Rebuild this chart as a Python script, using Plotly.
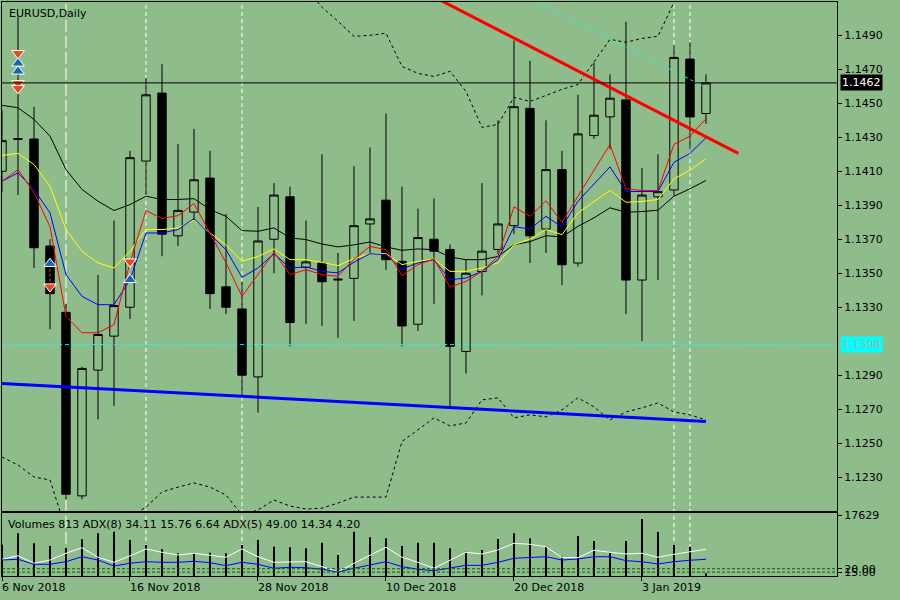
import plotly.graph_objects as go
from datetime import datetime

# ---- data ----
dates = ["2018-11-06", "2018-11-07", "2018-11-08", "2018-11-09", "2018-11-12",
         "2018-11-13", "2018-11-14", "2018-11-15", "2018-11-16", "2018-11-19",
         "2018-11-20", "2018-11-21", "2018-11-22", "2018-11-23", "2018-11-26",
         "2018-11-27", "2018-11-28", "2018-11-29", "2018-11-30", "2018-12-03",
         "2018-12-04", "2018-12-05", "2018-12-06", "2018-12-07", "2018-12-10",
         "2018-12-11", "2018-12-12", "2018-12-13", "2018-12-14", "2018-12-17",
         "2018-12-18", "2018-12-19", "2018-12-20", "2018-12-21", "2018-12-24",
         "2018-12-26", "2018-12-27", "2018-12-28", "2018-12-31", "2019-01-02",
         "2019-01-03", "2019-01-04", "2019-01-07", "2019-01-08", "2019-01-09"]

opens = [1.1410, 1.14287, 1.1429, 1.1366, 1.1327, 1.1219, 1.1293, 1.1313, 1.1330, 1.1416,
         1.1456, 1.1372, 1.1386, 1.1406, 1.1342, 1.1329, 1.1289, 1.1370, 1.1395, 1.13535,
         1.1356, 1.1346, 1.1347, 1.1379, 1.1393, 1.1357, 1.1320, 1.1370, 1.1364, 1.1304,
         1.1351, 1.1364, 1.1378, 1.1447, 1.1376, 1.1411, 1.1356, 1.1431, 1.1442, 1.1452,
         1.1346, 1.1395, 1.1399, 1.1476, 1.1444]
highs = [1.1446, 1.1501, 1.1448, 1.1370, 1.1332, 1.1295, 1.1349, 1.1381, 1.1422, 1.1465,
         1.1473, 1.1426, 1.1435, 1.1422, 1.1385, 1.1345, 1.1389, 1.1403, 1.1401, 1.1381,
         1.1420, 1.1362, 1.1413, 1.1424, 1.1444, 1.1401, 1.1388, 1.1394, 1.1367, 1.1358,
         1.1403, 1.1440, 1.1487, 1.1475, 1.1440, 1.1422, 1.1455, 1.1474, 1.1467, 1.1498,
         1.1412, 1.1420, 1.1484, 1.1486, 1.1467]
lows = [1.1398, 1.1396, 1.1353, 1.1317, 1.1217, 1.1217, 1.1264, 1.1272, 1.1323, 1.1396,
        1.1360, 1.1366, 1.1381, 1.1329, 1.1326, 1.1278, 1.1268, 1.1350, 1.1307, 1.1320,
        1.1319, 1.1312, 1.1322, 1.1362, 1.1352, 1.1307, 1.1316, 1.1332, 1.1271, 1.1291,
        1.1337, 1.1361, 1.1373, 1.1356, 1.1362, 1.1343, 1.1354, 1.1429, 1.1423, 1.1326,
        1.1310, 1.1346, 1.1395, 1.1423, 1.1438]
closes = [1.1428, 1.14292, 1.1365, 1.1338, 1.1220, 1.1294, 1.1314, 1.1331, 1.1418, 1.1455,
          1.1373, 1.1387, 1.1405, 1.1338, 1.1330, 1.1290, 1.1369, 1.1396, 1.1321, 1.13567,
          1.1345, 1.13465, 1.1378, 1.1382, 1.1358, 1.1319, 1.1371, 1.1363, 1.1307, 1.1350,
          1.1363, 1.1379, 1.1448, 1.1372, 1.1411, 1.1355, 1.1432, 1.1443, 1.1453, 1.1346,
          1.1396, 1.1398, 1.1477, 1.1442, 1.1462]

ma_red = [1.14041, 1.14110, 1.13975, 1.13774, 1.13246, 1.13150, 1.13150, 1.13197, 1.13562, 1.13869,
          1.13822, 1.13839, 1.13910, 1.13739, 1.13562, 1.13364, 1.13492, 1.13623, 1.13492, 1.13521,
          1.13492, 1.13482, 1.13583, 1.13658, 1.13639, 1.13486, 1.13551, 1.13584, 1.13419, 1.13452,
          1.13511, 1.13599, 1.13891, 1.13835, 1.13926, 1.13800, 1.13953, 1.14106, 1.14258, 1.13997,
          1.13987, 1.13987, 1.14258, 1.14307, 1.14409]
ma_blue = [1.14041, 1.14091, 1.13993, 1.13855, 1.13492, 1.13364, 1.13315, 1.13315, 1.13462, 1.13737,
           1.13737, 1.13757, 1.13822, 1.13727, 1.13639, 1.13476, 1.13531, 1.13615, 1.13531, 1.13537,
           1.13511, 1.13502, 1.13565, 1.13615, 1.13609, 1.13525, 1.13561, 1.13580, 1.13462, 1.13472,
           1.13511, 1.13580, 1.13773, 1.13761, 1.13835, 1.13773, 1.13924, 1.14022, 1.14126, 1.13981,
           1.13981, 1.13981, 1.14153, 1.14205, 1.14297]
ma_yellow = [1.14193, 1.14205, 1.14140, 1.14012, 1.13757, 1.13629, 1.13561, 1.13531, 1.13629, 1.13757,
             1.13757, 1.13766, 1.13812, 1.13737, 1.13668, 1.13570, 1.13599, 1.13643, 1.13580, 1.13580,
             1.13564, 1.13545, 1.13586, 1.13615, 1.13615, 1.13551, 1.13570, 1.13584, 1.13511, 1.13511,
             1.13531, 1.13561, 1.13668, 1.13701, 1.13757, 1.13727, 1.13855, 1.13924, 1.13988, 1.13918,
             1.13922, 1.13934, 1.14056, 1.14106, 1.14173]
ma_black = [1.14488, 1.14474, 1.14405, 1.14307, 1.14110, 1.13993, 1.13924, 1.13869, 1.13904, 1.13953,
            1.13934, 1.13934, 1.13939, 1.13875, 1.13835, 1.13751, 1.13747, 1.13767, 1.13708, 1.13698,
            1.13672, 1.13655, 1.13667, 1.13684, 1.13655, 1.13635, 1.13643, 1.13639, 1.13596, 1.13580,
            1.13580, 1.13599, 1.13668, 1.13686, 1.13721, 1.13714, 1.13776, 1.13826, 1.13885, 1.13859,
            1.13863, 1.13871, 1.13953, 1.13997, 1.14046]

band_upper = [None] * 19 + [
    1.1518, 1.15065, 1.14983, 1.14894, 1.14900, 1.14912, 1.14717, 1.14676, 1.14658, 1.14688,
    1.14570, 1.14358, 1.14376, 1.14535, 1.14511, 1.14546, 1.14582, 1.14611, 1.14741, 1.14876,
    1.14859, 1.14882, 1.14894, 1.15094, 1.1522, 1.1528]
band_lower = [1.12419, 1.12372, 1.12301, 1.12284, 1.1199, 1.1195, 1.1195, 1.1198, 1.12065, 1.12124,
              1.12213, 1.12242, 1.12266, 1.12242, 1.12195, 1.12078, 1.12107, 1.12166, 1.12130, 1.12113,
              1.12118, 1.12148, 1.12183, 1.12183, 1.12183, 1.12510, 1.12578, 1.12649, 1.12602, 1.12619,
              1.12755, 1.12767, 1.12649, 1.12667, 1.12655, 1.12696, 1.12767, 1.12714, 1.12637, 1.12684,
              1.12708, 1.12737, 1.12684, 1.12667, 1.12637]

volumes = [9000, 12340, 9450, 8670, 8090, 10600, 12340, 12800, 10400, 8960,
           7720, 6560, 6560, 6730, 6560, 8960, 10400, 8470, 8290, 8000,
           9620, 6070, 12800, 11180, 10900, 8670, 9620, 9620, 8000, 7020,
           7510, 10690, 12340, 10900, 8470, 5580, 11560, 10110, 6730, 10110,
           16470, 12720, 9000, 8470, 813]
adx5 = [34.1, 39.4, 28.1, 33.0, 43.0, 51.3, 37.1, 29.6, 39.0, 49.4,
        44.5, 40.5, 43.0, 40.5, 37.1, 49.4, 37.9, 29.6, 30.5, 30.5,
        23.1, 15.6, 28.1, 40.5, 51.9, 37.1, 29.6, 20.7, 32.3, 44.5,
        42.0, 47.9, 57.9, 56.4, 52.8, 36.5, 36.5, 47.5, 44.5, 42.0,
        43.0, 37.1, 41.5, 45.4, 49.0]
adx8 = [33.0, 34.1, 26.6, 26.6, 30.5, 37.9, 33.0, 24.1, 28.1, 30.5,
        29.6, 29.6, 31.1, 29.0, 24.6, 29.6, 26.6, 20.7, 22.2, 21.6,
        19.2, 15.2, 20.7, 25.6, 30.5, 23.1, 19.2, 17.1, 21.6, 25.1,
        25.1, 29.6, 35.6, 37.1, 37.9, 33.0, 34.5, 37.9, 37.9, 32.0,
        30.5, 27.1, 30.5, 32.6, 34.1]
adx_levels = [20, 15]
volume_top = 17629

# trend lines (bar position, price)
red_trend_x = [27, 46.02]
red_trend_y = [1.15126, 1.14205]
blue_trend_x = [0, 44]
blue_trend_y = [1.12852, 1.12628]
cyan_trend_x = [33, 43.75]
cyan_trend_y = [1.15118, 1.14605]
bid_price = 1.1462
cyan_level = 1.1308

# signal arrows
arrows_down_dates = ["2018-11-07", "2018-11-07", "2018-11-07", "2018-11-09", "2018-11-16"]
arrows_down_y = [1.14794, 1.14617, 1.14588, 1.13421, 1.13568]
arrows_up_dates = ["2018-11-07", "2018-11-07", "2018-11-09", "2018-11-16"]
arrows_up_y = [1.14735, 1.14688, 1.13556, 1.13462]

vline_long = ["2018-11-12"]
vline_short = ["2018-11-19", "2018-11-27", "2019-01-07", "2019-01-08"]
tick_dates = ["2018-11-06", "2018-11-16", "2018-11-28", "2018-12-10", "2018-12-20", "2019-01-03"]
price_ticks = [1.1230, 1.1250, 1.1270, 1.1290, 1.1330, 1.1350, 1.1370,
               1.1390, 1.1410, 1.1430, 1.1450, 1.1470, 1.1490]

bg = '#8FBC8B'
idx = list(range(len(dates)))
pos = {d: i for i, d in enumerate(dates)}
x_range = [0, 52.19]

fig = go.Figure()

fig.add_trace(go.Candlestick(
    x=idx, open=opens, high=highs, low=lows, close=closes,
    increasing=dict(line=dict(color='black', width=1), fillcolor=bg),
    decreasing=dict(line=dict(color='black', width=1), fillcolor='black'),
    whiskerwidth=0, hoverinfo='skip', showlegend=False))

for band in (band_upper, band_lower):
    fig.add_trace(go.Scatter(x=idx, y=band, mode='lines',
                             line=dict(color='black', width=1, dash='3px,3px')))

for ma, col in ((ma_black, 'black'), (ma_yellow, '#FFFF00'),
                (ma_blue, '#0000FF'), (ma_red, '#FF0000')):
    fig.add_trace(go.Scatter(x=idx, y=ma, mode='lines', line=dict(color=col, width=1)))

fig.add_trace(go.Scatter(x=red_trend_x, y=red_trend_y, mode='lines',
                         line=dict(color='#FF0000', width=3)))
fig.add_trace(go.Scatter(x=blue_trend_x, y=blue_trend_y, mode='lines',
                         line=dict(color='#0000FF', width=3)))
fig.add_trace(go.Scatter(x=cyan_trend_x, y=cyan_trend_y, mode='lines',
                         line=dict(color='#00FFFF', width=1, dash='dot')))

# red dashed connectors between the signal arrows
for d in ("2018-11-07", "2018-11-09"):
    ys = [y for dd, y in zip(arrows_down_dates, arrows_down_y) if dd == d] + \
         [y for dd, y in zip(arrows_up_dates, arrows_up_y) if dd == d]
    fig.add_trace(go.Scatter(x=[pos[d], pos[d]], y=[min(ys), max(ys)], mode='lines',
                             line=dict(color='#EE4422', width=1, dash='3px,2px')))

fig.add_trace(go.Scatter(x=[pos[d] for d in arrows_up_dates], y=arrows_up_y, mode='markers',
                         marker=dict(symbol='triangle-up', size=11, color='#1565B8',
                                     line=dict(color='white', width=1))))
fig.add_trace(go.Scatter(x=[pos[d] for d in arrows_down_dates], y=arrows_down_y, mode='markers',
                         marker=dict(symbol='triangle-down', size=11, color='#EE4422',
                                     line=dict(color='white', width=1))))

# lower window: volumes + two ADX lines
fig.add_trace(go.Bar(x=idx, y=volumes, width=0.1, marker=dict(color='black', line=dict(width=0)),
                     xaxis='x2', yaxis='y2'))
fig.add_trace(go.Scatter(x=idx, y=adx5, mode='lines', line=dict(color='white', width=1),
                         xaxis='x2', yaxis='y3'))
fig.add_trace(go.Scatter(x=idx, y=adx8, mode='lines', line=dict(color='#0000FF', width=1),
                         xaxis='x2', yaxis='y3'))

shapes = []
for d in vline_long + vline_short:
    shapes.append(dict(type='line', xref='x', yref='paper', x0=pos[d], x1=pos[d], y0=0, y1=1,
                       layer='below',
                       line=dict(color='white', width=1,
                                 dash='12px,4px' if d in vline_long else '4px,3px')))
shapes.append(dict(type='line', xref='paper', yref='y', x0=0, x1=1, y0=bid_price, y1=bid_price,
                   line=dict(color='black', width=1)))
shapes.append(dict(type='line', xref='paper', yref='y', x0=0, x1=1, y0=cyan_level, y1=cyan_level,
                   line=dict(color='#00FFFF', width=1, dash='4px,3px')))
for lv in adx_levels:
    shapes.append(dict(type='line', xref='paper', yref='y3', x0=0, x1=1, y0=lv, y1=lv,
                       line=dict(color='#006400', width=1, dash='3px,2px')))

annotations = [
    dict(text='EURUSD,Daily', xref='paper', yref='paper', x=0, y=1, xanchor='left',
         yanchor='top', xshift=5, yshift=-3, showarrow=False),
    dict(text='Volumes 813 ADX(8) 34.11 15.76 6.64 ADX(5) 49.00 14.34 4.20',
         xref='paper', yref='paper', x=0, y=0.1092, xanchor='left', yanchor='top',
         xshift=4, yshift=-3, showarrow=False),
    dict(text=f'{bid_price:.4f}', xref='paper', yref='y', x=1, y=bid_price, xanchor='left',
         xshift=3, showarrow=False, bgcolor='black', font=dict(color='white'), borderpad=1),
    dict(text=f'{cyan_level:.4f}', xref='paper', yref='y', x=1, y=cyan_level, xanchor='left',
         xshift=3, showarrow=False, bgcolor='#00FFFF', font=dict(color='#9FB59F'), borderpad=1),
]
for d in tick_dates:
    label = datetime.strptime(d, '%Y-%m-%d')
    annotations.append(dict(text=f'{label.day} {label:%b %Y}', xref='x2', yref='paper',
                            x=pos[d], y=0, xanchor='left', yanchor='top', xshift=-2, yshift=-3,
                            showarrow=False))

axis_common = dict(showgrid=False, zeroline=False, showline=True, mirror=True,
                   linecolor='black', linewidth=1)

fig.update_layout(
    width=900, height=600,
    margin=dict(l=2, r=63, t=2, b=24, autoexpand=False),
    paper_bgcolor=bg, plot_bgcolor=bg,
    showlegend=False, boxgap=0.25,
    font=dict(family='DejaVu Sans', size=11, color='black'),
    shapes=shapes, annotations=annotations,
    xaxis=dict(domain=[0, 1], anchor='y', range=x_range, showticklabels=False, ticks='',
               rangeslider=dict(visible=False), **axis_common),
    yaxis=dict(domain=[0.1132, 1], anchor='x', side='right', range=[1.12101, 1.15096],
               tickvals=price_ticks, tickformat='.4f', ticks='outside', ticklen=4,
               tickcolor='black', **axis_common),
    xaxis2=dict(domain=[0, 1], anchor='y2', range=x_range, showticklabels=False,
                tickvals=[pos[d] for d in tick_dates], ticks='outside', ticklen=4,
                tickcolor='black', **axis_common),
    yaxis2=dict(domain=[0, 0.1092], anchor='x2', side='right', range=[0, 18120],
                tickvals=[volume_top], ticktext=[str(volume_top)], ticks='outside', ticklen=4,
                tickcolor='black', **axis_common),
    yaxis3=dict(overlaying='y2', anchor='x2', side='right', range=[9.2, 102.5],
                tickvals=adx_levels, ticktext=['20.00', '15.00'], ticks='outside', ticklen=4,
                tickcolor='black', showgrid=False, zeroline=False, showline=False),
)

# the page body has a default 8px margin; drop it so the chart sits at the window's corner
fig.write_html("out.html", config={'displayModeBar': False},
               post_script="document.body.style.margin='0';")
